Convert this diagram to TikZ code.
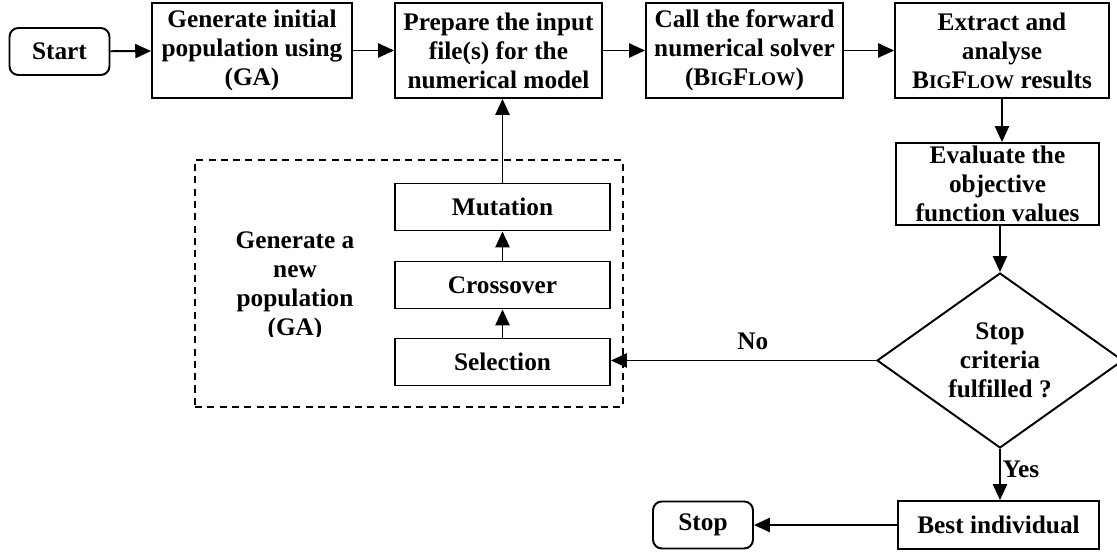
\documentclass[tikz,border=0pt]{standalone}
\usepackage{fontspec}
\setmainfont{Liberation Serif}
\usetikzlibrary{shapes.geometric, arrows.meta, positioning}

\newcommand{\bigflowname}{B{\fontsize{11}{13}\selectfont IG}F{\fontsize{11}{13}\selectfont LOW}}

\begin{document}
\begin{tikzpicture}[
    x=0.02cm, y=-0.02cm,
    line width=1.1pt,
    >={Triangle[length=9pt, width=8pt]},
    every node/.style={font=\bfseries\fontsize{14.4}{16.5}\selectfont, align=center},
    process/.style={draw, line width=1.1pt, minimum width=#1, minimum height=1.9cm, inner sep=1pt},
    terminal/.style={draw, line width=1.1pt, rounded corners=5pt, minimum width=2cm, minimum height=0.94cm},
    gastep/.style={draw, line width=1.1pt, minimum width=4.3cm, minimum height=0.94cm},
    decision/.style={draw, line width=1.1pt, diamond, aspect=1.4, minimum width=4.92cm,
                     minimum height=3.5cm, inner sep=0pt}
]
    \useasboundingbox (0,0) rectangle (1117,553);

    \node[terminal] (start) at (59.5,51.5) {Start};
    \node[process=4cm] (init) at (252,50.5) {Generate initial\\population using\\(GA)};
    \node[process=4.14cm] (prep) at (498.5,50.5) {Prepare the input\\file(s) for the\\numerical model};
    \node[process=3.94cm] (solver) at (744.5,50.5) {Call the forward\\numerical solver\\(\bigflowname)};
    \node[process=4.28cm] (extract) at (1002,50.5) {Extract and\\analyse\\\bigflowname{} results};
    \node[process=4.06cm, minimum height=1.64cm] (evaluate) at (997.5,184) {Evaluate the\\objective\\function values};
    \node[decision] (criteria) at (1000,360.5) {Stop\\criteria\\fulfilled ?};
    \node[process=4.02cm, minimum height=0.96cm] (best) at (998.5,525) {Best individual};
    \node[terminal] (stop) at (703,525) {Stop};

    % GA loop
    \node[draw, line width=1pt, dash pattern=on 4pt off 3pt, minimum width=8.56cm, minimum height=4.94cm] (gabox) at (409,283.5) {};
    \node[gastep] (mutation) at (502.5,207) {Mutation};
    \node[gastep] (crossover) at (502.5,285) {Crossover};
    \node[gastep] (selection) at (502.5,362) {Selection};
    \begin{scope}
        \clip (200,160) rectangle (390,337);
        \node (newpop) at (295,286) {Generate a\\new\\population\\(GA)};
    \end{scope}

    \draw[->] (start) -- (init);
    \draw[->] (init) -- (prep);
    \draw[->] (prep) -- (solver);
    \draw[->] (solver) -- (extract);
    \draw[->] (extract.south) -- (extract.south |- evaluate.north);
    \draw[->] (criteria.north |- evaluate.south) -- (criteria.north);
    \draw[->] (criteria.south) -- node[right, pos=0.4, inner sep=1pt] {Yes} (criteria.south |- best.north);
    \draw[->] (best) -- (stop);
    \draw[->] (criteria.west) -- node[above=2pt, pos=0.465] {No} (criteria.west -| selection.east);
    \draw[->] (selection) -- (crossover);
    \draw[->] (crossover) -- (mutation);
    \draw[->] (mutation.north) -- (mutation.north |- prep.south);
\end{tikzpicture}
\end{document}
